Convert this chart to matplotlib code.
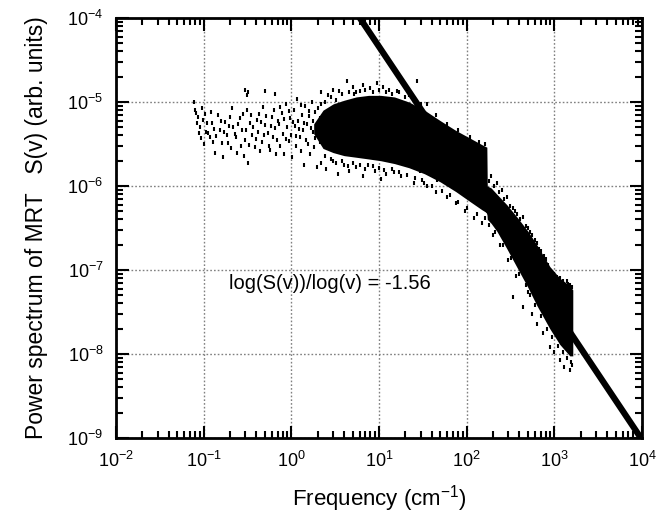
import numpy as np
import matplotlib
matplotlib.use("Agg")
import matplotlib.pyplot as plt
from matplotlib.ticker import LogLocator, NullFormatter

plt.rcParams['font.family'] = ['Liberation Sans', 'DejaVu Sans']
plt.rcParams['mathtext.fontset'] = 'custom'
plt.rcParams['mathtext.rm'] = 'Liberation Sans'
plt.rcParams['mathtext.it'] = 'Liberation Sans'
plt.rcParams['mathtext.default'] = 'regular'

# power-law fit shown on the chart
fit_slope = -1.56
fit_logS_at_1 = -2.78
fit_f = [1.0, 1e4]

# dense core of the spectrum (band)
core_f = [1.8, 2.3, 3.0, 4.0, 5.5, 7.6, 10.5, 15, 22, 33, 50, 75, 110, 150, 170,
          172, 190, 221, 287, 380, 500, 631, 889, 1155, 1503, 1625]
core_hi = [5.5e-6, 8e-6, 9.5e-6, 1.05e-5, 1.15e-5, 1.2e-5, 1.2e-5, 1.15e-5, 1.0e-5,
           8.0e-6, 6.0e-6, 4.6e-6, 3.7e-6, 3.1e-6, 2.9e-6, 1.0e-6, 9.5e-7,
           8.0e-7, 6.0e-7, 4.2e-7, 2.9e-7, 2.0e-7, 1.1e-7, 8.0e-8, 6.5e-8, 5.8e-8]
core_lo = [4.2e-6, 2.8e-6, 2.5e-6, 2.3e-6, 2.2e-6, 2.1e-6, 2.0e-6, 1.85e-6, 1.65e-6,
           1.4e-6, 1.12e-6, 8.6e-7, 6.5e-7, 5.2e-7, 4.8e-7, 4.0e-7, 3.6e-7,
           2.9e-7, 1.8e-7, 1.05e-7, 6.2e-8, 3.8e-8, 2.0e-8, 1.3e-8, 9.5e-9, 9.5e-9]

# sparse low-frequency points
sparse_f = [0.077, 0.079, 0.082, 0.084, 0.086, 0.088, 0.091, 0.093, 0.095, 0.098,
            0.1, 0.104, 0.106, 0.109, 0.112, 0.117, 0.12, 0.124, 0.128, 0.131,
            0.135, 0.14, 0.146, 0.153, 0.158, 0.162, 0.167, 0.17, 0.175, 0.184,
            0.189, 0.195, 0.2, 0.205, 0.21, 0.216, 0.225, 0.234, 0.24, 0.248,
            0.259, 0.265, 0.273, 0.28, 0.29, 0.296, 0.30, 0.305, 0.31, 0.312,
            0.32, 0.32, 0.33, 0.337, 0.345, 0.356, 0.37, 0.385, 0.395, 0.405,
            0.416, 0.43, 0.44, 0.45, 0.462, 0.474, 0.485, 0.5, 0.5, 0.52,
            0.541, 0.55, 0.57, 0.58, 0.601, 0.62, 0.63, 0.65, 0.65, 0.67,
            0.685, 0.7]
sparse_s = [1.0e-5, 8.0e-6, 7.4e-6, 5.6e-6, 6.6e-6, 4.3e-6, 5.0e-6, 3.7e-6, 8.5e-6, 6.1e-6,
            3.2e-6, 7.2e-6, 4.4e-6, 5.6e-6, 4.3e-6, 3.8e-6, 7.6e-6, 5.6e-6, 3.3e-6, 4.8e-6,
            2.5e-6, 3.9e-6, 7.0e-6, 4.6e-6, 6.0e-6, 3.25e-6, 2.2e-6, 4.4e-6, 5.8e-6, 4.0e-6,
            3.25e-6, 5.2e-6, 6.6e-6, 2.8e-6, 8.4e-6, 5.0e-6, 4.2e-6, 3.8e-6, 2.5e-6, 5.4e-6,
            6.4e-6, 3.0e-6, 4.6e-6, 7.2e-6, 2.3e-6, 3.5e-6, 1.4e-5, 4.6e-6, 1.2e-5, 8.0e-6,
            1.9e-6, 1.3e-5, 3.1e-6, 5.6e-6, 7.0e-6, 4.0e-6, 5.0e-6, 2.9e-6, 3.6e-6, 6.1e-6,
            4.4e-6, 7.3e-6, 2.6e-6, 5.8e-6, 3.3e-6, 8.7e-6, 4.0e-6, 5.3e-6, 1.35e-5, 6.8e-6,
            4.3e-6, 3.0e-6, 2.7e-6, 5.2e-6, 6.6e-6, 3.8e-6, 8.0e-6, 4.9e-6, 1.25e-5, 2.4e-6,
            3.5e-6, 6.0e-6]

# medium-density points between the sparse part and the core
mid_f = [0.72, 0.74, 0.75, 0.78, 0.8, 0.82, 0.83, 0.86, 0.88, 0.9, 0.93, 0.95,
         0.97, 1.0, 1.02, 1.04, 1.06, 1.1, 1.12, 1.13, 1.17, 1.2, 1.22, 1.24,
         1.28, 1.3, 1.32, 1.36, 1.38, 1.4, 1.45, 1.48, 1.5, 1.55, 1.58, 1.6,
         1.65, 1.68, 1.7, 1.75, 1.78, 1.8, 1.85, 1.88, 1.9, 1.95, 2.0, 2.05,
         2.1, 2.15, 2.2, 2.25]
mid_s = [5.5e-6, 8.8e-6, 3.0e-6, 7.5e-6, 4.2e-6, 6.2e-6, 2.4e-6, 9.5e-6, 3.6e-6,
         5.0e-6, 3.4e-6, 7.9e-6, 6.5e-6, 4.0e-6, 2.2e-6, 5.8e-6, 8.0e-6, 5.2e-6,
         3.9e-6, 3.0e-6, 1.1e-5, 6.0e-6, 4.8e-6, 3.8e-6, 2.6e-6, 9.2e-6, 7.0e-6,
         4.6e-6, 5.6e-6, 1.8e-6, 9.0e-6, 3.5e-6, 5.5e-6, 3.2e-6, 7.8e-6, 6.8e-6,
         2.4e-6, 4.9e-6, 1.0e-5, 4.4e-6, 6.0e-6, 2.9e-6, 7.6e-6, 3.7e-6, 5.0e-6,
         1.7e-6, 8.5e-6, 4.2e-6, 6.4e-6, 3.3e-6, 9.5e-6, 5.4e-6]

# scattered points around the dense core
fringe_f = [2.2, 2.6, 3.0, 3.5, 4.3, 5.0, 5.5, 6.5, 8.0, 9.5, 11, 13, 16, 22, 27,
            2.4, 2.8, 3.2, 3.8, 4.5, 5.2, 6.0, 7.0, 8.5, 10, 12, 14, 17, 20, 25, 30,
            2.2, 2.5, 3.0, 3.4, 4.0, 4.6, 5.5, 6.5, 7.5, 9.0, 10.5, 12, 15, 18, 25,
            29, 31, 35, 45, 46, 60, 75, 95, 120, 150,
            2.4, 2.8, 3.2, 3.8, 4.4, 5.0, 6.0, 7.0, 8.5, 10, 11.5, 14, 17, 21, 26,
            33, 40, 52, 65, 80, 100, 130, 160,
            35, 45, 60, 80, 110, 140, 160,
            190, 221, 250, 287, 336, 380, 437, 500, 560, 631, 700, 800, 889, 1000,
            1155, 1400, 1500,
            180, 205, 235, 270, 310, 360, 410, 470, 530, 600, 670, 760, 850, 950,
            1080, 1250, 1450, 1580,
            200, 240, 300, 336, 370, 437, 500, 560, 631, 750, 889, 1000, 1155,
            1300, 1500, 1600,
            180, 210, 260, 320, 400, 470, 530, 600, 700, 820, 950, 1100, 1250,
            1400, 1550]
fringe_s = [1.3e-5, 1.2e-5, 1.4e-5, 1.35e-5, 1.8e-5, 1.5e-5, 1.3e-5, 1.6e-5, 1.45e-5, 1.7e-5,
            1.5e-5, 1.4e-5, 1.35e-5, 1.2e-5, 1.8e-5,
            1.0e-5, 1.15e-5, 1.05e-5, 1.25e-5, 1.3e-5, 1.25e-5, 1.35e-5, 1.4e-5, 1.3e-5,
            1.4e-5, 1.3e-5, 1.25e-5, 1.3e-5, 1.15e-5, 1.1e-5, 9.5e-6,
            1.9e-6, 1.6e-6, 2.0e-6, 1.4e-6, 1.8e-6, 1.5e-6, 1.7e-6, 1.3e-6, 1.8e-6, 1.5e-6,
            1.2e-6, 1.4e-6, 1.47e-6, 1.3e-6, 1.1e-6, 1.5e-6, 1.18e-6, 1.0e-6, 8.5e-7, 1.18e-6,
            7.5e-7, 6.2e-7, 5.0e-7, 4.2e-7, 3.6e-7,
            2.3e-6, 2.1e-6, 1.9e-6, 2.0e-6, 1.75e-6, 1.9e-6, 1.8e-6, 1.6e-6, 1.75e-6,
            1.65e-6, 1.55e-6, 1.6e-6, 1.45e-6, 1.35e-6, 1.25e-6, 1.1e-6, 1.0e-6, 8.8e-7,
            7.8e-7, 6.4e-7, 5.5e-7, 4.6e-7, 4.2e-7,
            9.5e-6, 7.0e-6, 5.5e-6, 4.6e-6, 3.8e-6, 3.3e-6, 3.2e-6,
            1.3e-6, 1.1e-6, 9.0e-7, 7.5e-7, 5.5e-7, 4.7e-7, 4.3e-7, 3.2e-7, 2.6e-7, 2.1e-7,
            1.7e-7, 1.35e-7, 1.0e-7, 9.0e-8, 8.0e-8, 7.5e-8, 6.6e-8,
            1.15e-6, 1.0e-6, 8.5e-7, 7.0e-7, 5.8e-7, 5.0e-7, 4.0e-7, 3.3e-7, 2.8e-7,
            2.3e-7, 1.8e-7, 1.45e-7, 1.15e-7, 9.5e-8, 8.3e-8, 7.5e-8, 6.8e-8, 6.2e-8,
            2.6e-7, 2.0e-7, 1.3e-7, 4.8e-8, 8.5e-8, 3.6e-8, 5.5e-8, 3.0e-8, 2.3e-8, 1.8e-8,
            1.2e-8, 1.05e-8, 8.5e-9, 7.0e-9, 6.5e-9, 7.5e-9,
            3.4e-7, 2.8e-7, 2.0e-7, 1.4e-7, 9.0e-8, 6.6e-8, 5.0e-8, 3.8e-8, 2.8e-8,
            2.0e-8, 1.6e-8, 1.25e-8, 1.05e-8, 9.0e-9, 8.0e-9]

fig = plt.figure(figsize=(6.72, 5.21), dpi=100)
ax = fig.add_axes([0.1726, 0.1593, 0.7827, 0.8061])
ax.set_xscale('log')
ax.set_yscale('log')
ax.set_xlim(1e-2, 1e4)
ax.set_ylim(1e-9, 1e-4)

ax.grid(True, which='major', linestyle=(0, (1.2, 1.5)), color='#808080', linewidth=1.0)
ax.set_axisbelow(True)

ax.fill_between(core_f, core_lo, core_hi, color='black', linewidth=0, zorder=2)
for xs, ys in ((sparse_f, sparse_s), (mid_f, mid_s), (fringe_f, fringe_s)):
    ax.plot(xs, ys, linestyle='none', marker='|', markersize=3.5,
            markeredgewidth=1.5, color='black', zorder=3)

fit_s = [10 ** (fit_logS_at_1 + fit_slope * np.log10(f)) for f in fit_f]
ax.plot(fit_f, fit_s, color='black', linewidth=4.5, solid_capstyle='butt', zorder=4)

ax.text(0.407, 0.369, 'log(S(v))/log(v) = -1.56', transform=ax.transAxes,
        ha='center', va='center', fontsize=14.5)

ax.xaxis.set_major_locator(LogLocator(base=10, numticks=20))
ax.yaxis.set_major_locator(LogLocator(base=10, numticks=20))
for axis in (ax.xaxis, ax.yaxis):
    axis.set_minor_locator(LogLocator(base=10, subs=np.arange(2, 10), numticks=100))
    axis.set_minor_formatter(NullFormatter())

ax.tick_params(which='both', direction='in', top=True, right=True, width=1.5,
               labelsize=13, color='black')
ax.tick_params(which='major', length=9, pad=9)
ax.tick_params(which='minor', length=5, labelleft=False, labelbottom=False)
for sp in ax.spines.values():
    sp.set_linewidth(2)

ax.set_xlabel('Frequency (cm$^{-1}$)', fontsize=16, labelpad=9)
ax.set_ylabel('Power spectrum of MRT   S(v) (arb. units)', fontsize=16.5, labelpad=14)

fig.savefig('out.png', dpi=100)
